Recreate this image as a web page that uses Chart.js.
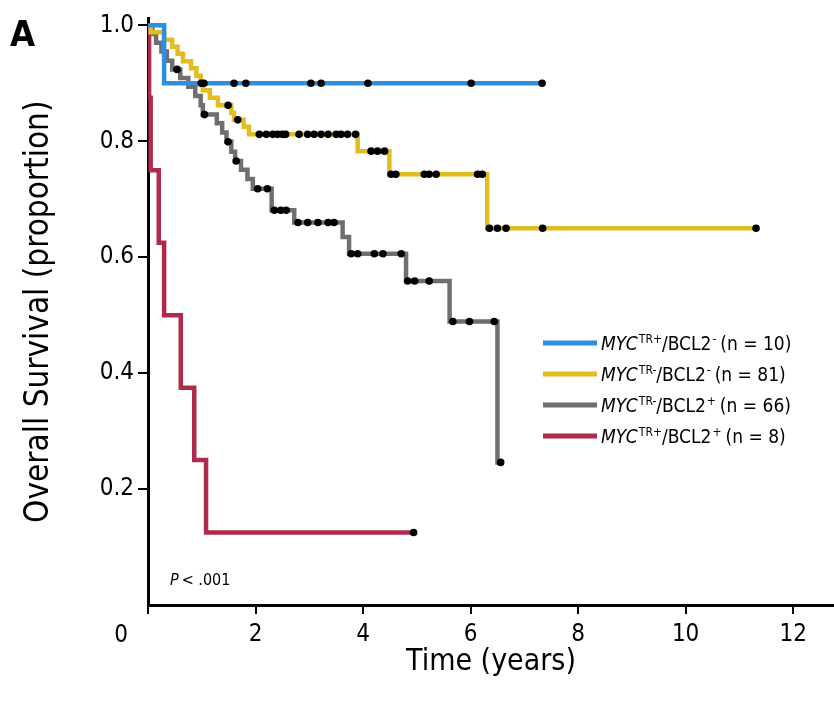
<!DOCTYPE html>
<html>
<head>
<meta charset="utf-8">
<script src="https://cdn.jsdelivr.net/npm/chart.js@4"></script>
<style>
  html, body { margin: 0; padding: 0; background: #fff; }
  #wrap { width: 834px; height: 720px; position: relative; }
</style>
</head>
<body>
<div id="wrap"><canvas id="km"></canvas></div>
<script>
// Kaplan-Meier curves: step times (years) and survival after each step
const blueTimes = [0, 0.3]
const blueSurv = [1, 0.9]
const blueCensor = [0.99, 1.04, 1.6, 1.82, 3.03, 3.22, 4.09, 6.01, 7.33]

const yellowTimes = [0, 0.05, 0.3, 0.45, 0.55, 0.65, 0.8, 0.9, 0.98, 1.02, 1.15, 1.3, 1.55, 1.6, 1.78, 1.88, 3.9, 4.49, 6.31]
const yellowSurv = [1, 0.988, 0.975, 0.963, 0.951, 0.938, 0.926, 0.913, 0.9, 0.888, 0.875, 0.862, 0.849, 0.837, 0.825, 0.812, 0.783, 0.743, 0.65]
const yellowCensor = [1.49, 1.67, 2.07, 2.2, 2.32, 2.41, 2.5, 2.56, 2.81, 2.97, 3.09, 3.22, 3.35, 3.5, 3.59, 3.71, 3.86,
  4.15, 4.27, 4.4, 4.52, 4.61, 5.14, 5.23, 5.36, 6.13, 6.22, 6.35, 6.5, 6.66, 7.34, 11.31]

const grayTimes = [0, 0.08, 0.15, 0.25, 0.35, 0.45, 0.6, 0.75, 0.88, 0.98, 1.02, 1.28, 1.38, 1.46, 1.55, 1.62, 1.73, 1.85, 1.95,
  2.3, 2.72, 3.62, 3.74, 4.8, 5.61, 6.5]
const graySurv = [1, 0.985, 0.97, 0.955, 0.939, 0.924, 0.909, 0.894, 0.878, 0.862, 0.846, 0.831, 0.815, 0.799, 0.782, 0.766, 0.751, 0.735, 0.718,
  0.681, 0.66, 0.635, 0.606, 0.559, 0.489, 0.246]
const grayCensor = [0.54, 1.05, 1.49, 1.64, 2.04, 2.22, 2.35, 2.47, 2.57, 2.79, 2.97, 3.16, 3.35, 3.46, 3.78, 3.9, 4.21, 4.37, 4.71,
  4.83, 4.96, 5.23, 5.67, 5.98, 6.44, 6.56]

const redTimes = [0, 0.02, 0.05, 0.2, 0.3, 0.61, 0.86, 1.08]
const redSurv = [1, 0.875, 0.75, 0.625, 0.5, 0.375, 0.25, 0.125]
const redCensor = [4.94]

// legend pieces
const legendTR = ['TR+', 'TR-', 'TR-', 'TR+']
const legendBCL2 = ['-', '-', '+', '+']
const legendN = [10, 81, 66, 8]

const xTicks = [0, 2, 4, 6, 8, 10, 12]
const yTicks = [0.2, 0.4, 0.6, 0.8, 1.0]

const colors = ['#2d8fe2', '#e2bd22', '#6f6f6f', '#b02a4c']
const FONT = "'Liberation Sans Narrow', 'DejaVu Sans Condensed', 'Roboto Condensed', Roboto, sans-serif"

// survival level at time t (last step at or before t)
function levelAt(times, surv, t) {
  let s = surv[0]
  for (let i = 0; i < times.length; i++) if (times[i] <= t) s = surv[i]
  return s
}

function curve(times, surv, censor) {
  const pts = times.map((t, i) => ({x: t, y: surv[i]}))
  const end = censor[censor.length - 1]
  if (end > times[times.length - 1]) pts.push({x: end, y: surv[surv.length - 1]})
  return pts
}

function marks(times, surv, censor) {
  return censor.map(t => ({x: t, y: levelAt(times, surv, t)}))
}

const groups = [
  [blueTimes, blueSurv, blueCensor],
  [yellowTimes, yellowSurv, yellowCensor],
  [grayTimes, graySurv, grayCensor],
  [redTimes, redSurv, redCensor]
]

const datasets = []
groups.forEach((g, i) => {
  datasets.push({
    data: curve(g[0], g[1], g[2]),
    showLine: true,
    stepped: true,
    borderColor: colors[i],
    borderWidth: 4.5,
    pointRadius: 0,
    fill: false,
    order: 1
  })
})
groups.forEach((g, i) => {
  datasets.push({
    data: marks(g[0], g[1], g[2]),
    showLine: false,
    pointStyle: 'circle',
    pointRadius: 3.8,
    backgroundColor: '#000',
    borderColor: '#000',
    borderWidth: 0,
    order: 0
  })
})

// extra text: panel letter, origin "0", P value, legend
const extras = {
  id: 'extras',
  afterDraw(chart) {
    const ctx = chart.ctx
    const xs = chart.scales.x
    ctx.save()
    ctx.fillStyle = '#000'
    ctx.textBaseline = 'alphabetic'

    ctx.font = 'bold 36px ' + FONT
    ctx.textAlign = 'left'
    ctx.fillText('A', 10, 46)

    ctx.font = '24px ' + FONT
    ctx.textAlign = 'center'
    ctx.textBaseline = 'middle'
    ctx.fillText('0', xs.getPixelForValue(0) - 27, 636)

    ctx.textAlign = 'left'
    ctx.textBaseline = 'alphabetic'
    let px = 170
    ctx.font = 'italic 16px ' + FONT
    ctx.fillText('P', px, 585)
    px += ctx.measureText('P').width + 3
    ctx.font = '16px ' + FONT
    ctx.fillText('< .001', px, 585)

    // legend
    for (let i = 0; i < 4; i++) {
      const y = 343 + i * 31
      ctx.strokeStyle = colors[i]
      ctx.lineWidth = 5
      ctx.beginPath()
      ctx.moveTo(543, y)
      ctx.lineTo(597, y)
      ctx.stroke()

      let x = 601
      const base = y + 7
      ctx.font = 'italic 19px ' + FONT
      ctx.fillText('MYC', x, base)
      x += ctx.measureText('MYC').width + 1
      ctx.font = '12px ' + FONT
      ctx.fillText(legendTR[i], x, base - 7)
      x += ctx.measureText(legendTR[i]).width
      ctx.font = '19px ' + FONT
      ctx.fillText('/BCL2', x, base)
      x += ctx.measureText('/BCL2').width + 1
      ctx.font = '12px ' + FONT
      ctx.fillText(legendBCL2[i], x, base - 7)
      x += ctx.measureText(legendBCL2[i]).width + 4
      ctx.font = '19px ' + FONT
      ctx.fillText('(n = ' + legendN[i] + ')', x, base)
    }
    ctx.restore()
  }
}

Chart.defaults.font.family = FONT
Chart.defaults.color = '#000'

new Chart(document.getElementById('km'), {
  type: 'scatter',
  data: {datasets: datasets},
  options: {
    responsive: true,
    maintainAspectRatio: false,
    animation: false,
    layout: {autoPadding: false, padding: {top: 15, right: 0, bottom: 0, left: 0}},
    plugins: {legend: {display: false}, tooltip: {enabled: false}},
    scales: {
      x: {
        type: 'linear',
        min: 0,
        max: 12.76,
        afterBuildTicks: s => { s.ticks = xTicks.map(v => ({value: v})) },
        afterFit: s => { s.height = 115 },
        ticks: {
          font: {size: 24},
          padding: 6,
          callback: v => v === 0 ? '' : String(v)
        },
        grid: {drawOnChartArea: false, drawTicks: true, tickLength: 9, color: '#000', lineWidth: 2},
        border: {display: true, color: '#000', width: 3},
        title: {display: true, text: 'Time (years)', font: {size: 30}, padding: {top: 0, bottom: 40}}
      },
      y: {
        min: 0,
        max: 1.012,
        afterBuildTicks: s => { s.ticks = yTicks.map(v => ({value: v})) },
        afterFit: s => { s.width = 148 },
        ticks: {
          font: {size: 24},
          padding: 4,
          callback: v => v.toFixed(1)
        },
        grid: {drawOnChartArea: false, drawTicks: true, tickLength: 10, color: '#000', lineWidth: 2},
        border: {display: true, color: '#000', width: 3},
        title: {display: true, text: 'Overall Survival (proportion)', font: {size: 33}, padding: {top: 20, bottom: 0}}
      }
    }
  },
  plugins: [extras]
})
</script>
</body>
</html>
